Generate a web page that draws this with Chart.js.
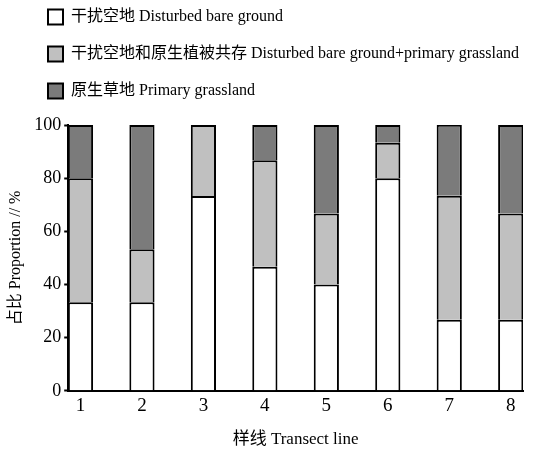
<!DOCTYPE html>
<html>
<head>
<meta charset="utf-8">
<script src="https://cdn.jsdelivr.net/npm/chart.js@4/dist/chart.umd.min.js"></script>
<style>
  body { margin: 0; background: #fff; }
  canvas { display: block; }
</style>
</head>
<body>
<canvas id="transectChart" width="558" height="453"></canvas>
<script>
// Transects (x categories) and proportions (%) per land type
const transects = ['1', '2', '3', '4', '5', '6', '7', '8'];
const disturbedBare = [33.3, 33.3, 73.3, 46.7, 40.0, 80.0, 26.7, 26.7];
const disturbedMixed = [46.7, 20.0, 26.7, 40.0, 26.7, 13.3, 46.7, 40.0];
const primaryGrass = [20.0, 46.7, 0, 13.3, 33.3, 6.7, 26.7, 33.3];
const yTicks = [0, 20, 40, 60, 80, 100];

const seriesLabels = [
  '干扰空地 Disturbed bare ground',
  '干扰空地和原生植被共存 Disturbed bare ground+primary grassland',
  '原生草地 Primary grassland'
];
const seriesColors = ['#ffffff', '#c0c0c0', '#7b7b7b'];

const serif = "'Liberation Serif', 'Noto Sans CJK SC', serif";

// Move the legend block right/up so it sits like the original figure
const legendShift = {
  id: 'legendShift',
  afterLayout(chart) {
    const lg = chart.legend;
    if (!lg) return;
    lg.left += 21;
    lg.right += 21;
    lg.top -= 16;
    lg.bottom -= 16;
  }
};

function makeDataset(label, data, color) {
  return {
    label: label,
    data: data,
    backgroundColor: color,
    borderColor: '#000',
    borderWidth: 2,
    borderSkipped: 'start',
    barPercentage: 0.41,
    categoryPercentage: 1
  };
}

const ctx = document.getElementById('transectChart').getContext('2d');
const chart = new Chart(ctx, {
  type: 'bar',
  data: {
    labels: transects,
    datasets: [
      makeDataset(seriesLabels[0], disturbedBare, seriesColors[0]),
      makeDataset(seriesLabels[1], disturbedMixed, seriesColors[1]),
      makeDataset(seriesLabels[2], primaryGrass, seriesColors[2])
    ]
  },
  plugins: [legendShift],
  options: {
    responsive: false,
    animation: false,
    layout: { padding: { left: 6, right: 35, top: 4, bottom: 3 } },
    plugins: {
      tooltip: { enabled: false },
      legend: {
        position: 'top',
        align: 'start',
        labels: {
          boxWidth: 15,
          boxHeight: 15,
          padding: 21,
          color: '#000',
          font: { family: serif, size: 16 }
        }
      }
    },
    scales: {
      x: {
        type: 'linear',
        stacked: true,
        offset: false,
        min: 0.8,
        max: 8.2,
        afterBuildTicks: (scale) => {
          scale.ticks = transects.map(t => ({ value: +t }));
        },
        ticks: {
          color: '#000',
          padding: -4,
          font: { family: serif, size: 19 },
          callback: (v) => String(v)
        },
        grid: { display: false },
        border: { display: true, color: '#000', width: 2 },
        title: {
          display: true,
          text: '样线 Transect line',
          color: '#000',
          padding: { top: 16, bottom: 0 },
          font: { family: serif, size: 17 }
        }
      },
      y: {
        stacked: true,
        min: 0,
        max: 100,
        afterBuildTicks: (scale) => {
          scale.ticks = yTicks.map(v => ({ value: v }));
        },
        ticks: {
          color: '#000',
          padding: 3,
          font: { family: serif, size: 18 }
        },
        grid: {
          drawOnChartArea: false,
          drawTicks: true,
          tickLength: 4,
          tickWidth: 2,
          tickColor: '#000'
        },
        border: { display: true, color: '#000', width: 2 },
        title: {
          display: true,
          text: '占比 Proportion // %',
          color: '#000',
          padding: { top: 0, bottom: 6 },
          font: { family: serif, size: 16 }
        }
      }
    }
  }
});
</script>
</body>
</html>
